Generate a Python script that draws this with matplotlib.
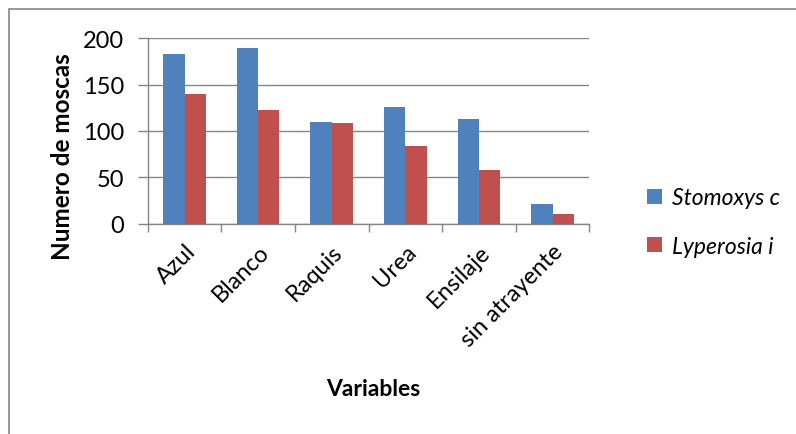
import numpy as np
import matplotlib.pyplot as plt
from matplotlib.patches import Rectangle

# datos
categorias = ['Azul', 'Blanco', 'Raquis', 'Urea', 'Ensilaje', 'sin atrayente']
stomoxys = [183, 189, 110, 126, 113, 21]
lyperosia = [140, 123, 109, 84, 58, 10]
y_ticks = [0, 50, 100, 150, 200]

azul = '#4F81BD'
rojo = '#C0504D'
gris = '#868686'

plt.rcParams['font.family'] = ['Lato', 'DejaVu Sans']

fig = plt.figure(figsize=(7.96, 4.35), dpi=100)
ax = fig.add_axes([147.7/796, 1-224.7/435, (589.3-147.7)/796, (224.7-39.3)/435])

x = np.arange(len(categorias))
w = 0.29
ax.bar(x - w/2, stomoxys, w, color=azul, label='Stomoxys c', zorder=3)
ax.bar(x + w/2, lyperosia, w, color=rojo, label='Lyperosia i', zorder=3)

ax.set_xlim(-0.5, len(categorias) - 0.5)
ax.set_ylim(0, 200)
ax.set_yticks(y_ticks)
ax.set_yticklabels([str(v) for v in y_ticks], fontsize=17)
ax.yaxis.grid(True, color=gris, linewidth=1.0, zorder=0)

# marcas entre categorias (estilo Excel)
ax.set_xticks(np.arange(-0.5, len(categorias)), minor=True)
ax.set_xticks(x)
ax.set_xticklabels(categorias, rotation=45, ha='right', rotation_mode='anchor', fontsize=17)
ax.tick_params(axis='x', which='major', length=0, pad=12)
ax.tick_params(axis='x', which='minor', length=6, color=gris, width=1)
ax.tick_params(axis='y', length=7, color=gris, width=1, pad=10)

for s in ['top', 'right']:
    ax.spines[s].set_visible(False)
for s in ['left', 'bottom']:
    ax.spines[s].set_color(gris)
    ax.spines[s].set_linewidth(1.0)

ax.set_ylabel('Numero de moscas', fontsize=17.5, fontweight='bold')
ax.yaxis.set_label_coords(-(147.7-74)/(589.3-147.7), (224.7-157)/(224.7-39.3))
ax.set_xlabel('Variables', fontsize=16.5, fontweight='bold')
ax.xaxis.set_label_coords((373-147.7)/(589.3-147.7), -(390-224.7)/(224.7-39.3))
ax.xaxis.label.set_va('center')

leg = fig.legend(loc='center left', bbox_to_anchor=(626/796, 1-223/435), frameon=False,
                 prop={'style': 'italic', 'size': 16.5}, handlelength=0.65, handleheight=0.65,
                 handletextpad=0.45, labelspacing=1.2)

# borde del grafico
fig.patches.append(Rectangle((9/796, -0.1), 1.2, 1.1-10/435, transform=fig.transFigure,
                             fill=False, edgecolor=gris, linewidth=1.2))

fig.savefig('out.png', dpi=100)
